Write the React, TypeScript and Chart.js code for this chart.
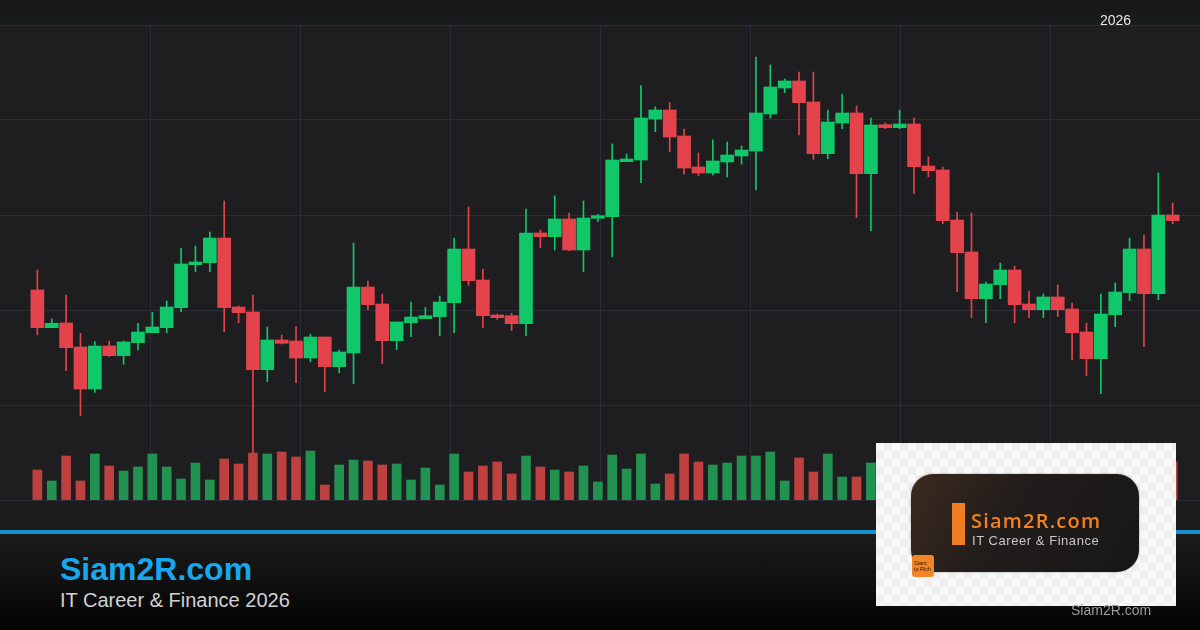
import React, { useEffect, useRef } from 'react';
import { Chart, registerables } from 'chart.js';

Chart.register(...registerables);

// Price units (arbitrary, no labels shown); gridlines every 95 units
const opens = [210, 172.3, 177, 153, 111, 154, 144.3, 157.3, 167.3, 172.3, 192.3, 235.3, 237.3, 262, 193, 188, 130.3, 160, 159, 142, 163, 133.3, 147, 213, 196, 159.3, 177.3, 181.3, 183.3, 197.3, 251, 220, 185, 184.3, 176.3, 267, 263.3, 281, 250, 281.7, 283.3, 338.3, 340, 381, 390, 364, 333, 327, 338, 344, 349, 386, 412, 419, 398, 346.3, 377, 387, 326.3, 375.3, 372.3, 376, 334, 330, 280, 248, 201.3, 215.3, 230, 196, 190.3, 203, 191, 168, 141.3, 185.3, 207.3, 251, 206.3, 285];
const highs = [230, 181, 205, 166.7, 158.3, 159, 159, 176.7, 187.7, 199, 251.7, 254, 268, 299, 194, 205, 173, 165, 173.3, 166, 163, 150, 257, 219, 206, 178, 198, 192.3, 204, 261.7, 293, 231, 186, 186.7, 291, 270, 304, 287, 299, 285.7, 356, 346, 414.3, 393.3, 397.3, 371, 347, 360, 358, 354, 443, 435, 421, 428, 428, 390, 406, 394, 382, 377, 390, 382, 343, 333, 288, 287, 218, 237, 234, 209, 206, 215, 197, 177, 206, 217, 262, 265, 327, 297];
const lows = [165, 172.3, 129.3, 84.3, 107.7, 143.3, 135.7, 150, 167.3, 167.3, 188.3, 228.3, 228.3, 168.3, 177.3, 47, 118.3, 156, 117.3, 138, 108.3, 127.3, 116.3, 190.3, 136.3, 150.3, 163.3, 181.3, 164.3, 167.3, 214.7, 172.3, 180.7, 169.3, 164.3, 252.3, 250, 249.3, 228.3, 278.3, 243.3, 338.3, 317.3, 368.3, 348.3, 326, 324.3, 325, 323, 336, 310, 382, 407.3, 365, 340.7, 341.3, 371.3, 282.3, 269.3, 371.3, 371.3, 306.3, 323.3, 276.3, 208.3, 182.3, 177.3, 201.3, 177.3, 182.3, 182.3, 183.3, 140.3, 124.3, 106.3, 173.3, 199.3, 153.3, 200.3, 276.3];
const closes = [172.3, 176.7, 152.3, 111, 154, 144.3, 158, 168, 173, 193, 236, 238, 262, 192.3, 187.3, 130.3, 160, 156.7, 142, 163, 133.3, 148, 213, 195.3, 159.3, 178, 183, 184.3, 198, 251, 219.3, 184.3, 182.3, 176.3, 267, 263.3, 281, 250, 282, 284.3, 340, 341, 382, 390, 363, 332, 327, 339, 345, 350, 387, 413, 419, 397.3, 346.3, 378, 387, 326.3, 375, 372.3, 376, 333.3, 329.3, 279.3, 247.3, 201.3, 216, 230, 195.3, 190.3, 203, 190.3, 167.3, 141.3, 186, 208, 251, 206.3, 285, 279.3];
const volumes = [30, 19, 44, 19, 46, 34, 29, 33, 46, 33, 21, 37, 20, 41, 36, 47, 46, 48, 43, 49, 15, 35, 40, 39, 35, 36, 20, 32, 15, 46, 28, 34, 38, 26, 44, 33, 30, 28, 34, 18, 45, 31, 46, 16, 26, 46, 38, 35, 37, 44, 44, 48, 19, 42, 28, 46, 23, 23, 37, 20, 26, 40, 22, 35, 44, 47, 30, 28, 38, 18, 24, 27, 36, 41, 48, 33, 39, 42, 47, 38];
const yearLabel = '2026';
const brandTitle = 'Siam2R.com';
const brandSubtitle = 'IT Career & Finance 2026';
const logoSubtitle = 'IT Career & Finance';

const UP = '#10c86a';
const DOWN = '#e5434b';
const VOL_UP = '#21924f';
const VOL_DOWN = '#be403f';
const GRID = '#2b2e3a';

export default function App() {
  const ref = useRef<HTMLCanvasElement | null>(null);

  useEffect(() => {
    if (!ref.current) return;
    const idx = opens.map((_, i) => i);
    const up = (i: number) => closes[i] >= opens[i];
    const chart = new Chart(ref.current, {
      type: 'bar',
      data: {
        datasets: [
          {
            label: 'Body',
            data: idx.map((i) => ({ x: i, y: [opens[i], closes[i]] })) as any,
            backgroundColor: idx.map((i) => (up(i) ? UP : DOWN)),
            borderWidth: 0,
            barThickness: 13,
            grouped: false,
            order: 1,
            xAxisID: 'x',
            yAxisID: 'y',
          } as any,
          {
            label: 'Wick',
            data: idx.map((i) => ({ x: i, y: [lows[i], highs[i]] })) as any,
            backgroundColor: idx.map((i) => (up(i) ? UP : DOWN)),
            borderWidth: 0,
            barThickness: 1,
            grouped: false,
            order: 2,
            xAxisID: 'x',
            yAxisID: 'y',
          } as any,
          {
            label: 'Volume',
            data: idx.map((i) => ({ x: i, y: volumes[i] })) as any,
            backgroundColor: idx.map((i) => (up(i) ? VOL_UP : VOL_DOWN)),
            borderWidth: 0,
            barThickness: 9,
            grouped: false,
            order: 3,
            xAxisID: 'x',
            yAxisID: 'yv',
          } as any,
        ],
      },
      options: {
        animation: false,
        responsive: false,
        devicePixelRatio: 1,
        layout: { padding: { top: 5, bottom: 5, left: 0, right: 0 } },
        plugins: { legend: { display: false }, tooltip: { enabled: false } },
        scales: {
          x: {
            type: 'linear',
            min: -2.6,
            max: 80.9,
            offset: false,
            display: false,
          },
          xg: {
            type: 'linear',
            position: 'bottom',
            min: 0,
            max: 1200,
            offset: false,
            ticks: { display: false, stepSize: 150 },
            grid: {
              color: (c: any) => (c.tick && (c.tick.value === 0 || c.tick.value === 1200) ? 'rgba(0,0,0,0)' : GRID),
              drawTicks: false,
              offset: false,
            },
            border: { display: false },
          },
          y: {
            type: 'linear',
            min: 0,
            max: 475,
            ticks: { display: false, stepSize: 95 },
            grid: { color: GRID, drawTicks: false },
            border: { display: false },
          },
          yv: {
            type: 'linear',
            min: 0,
            max: 475,
            display: false,
          },
        },
      } as any,
    });
    return () => chart.destroy();
  }, []);

  const txt = { position: 'absolute' as const, whiteSpace: 'nowrap' as const, margin: 0 };

  return (
    <div
      style={{
        position: 'fixed',
        left: 0,
        top: 0,
        width: 1200,
        height: 630,
        overflow: 'hidden',
        background: '#1e1e20',
        fontFamily: '"Liberation Sans", Arial, Helvetica, sans-serif',
      }}
    >
      <div style={{ position: 'absolute', left: 0, top: 0, width: 1200, height: 25, background: 'linear-gradient(#151618, #1b1c1e)' }} />
      <div style={{ position: 'absolute', left: 0, top: 500, width: 1200, height: 30, background: '#1c1c1d' }} />
      <canvas
        ref={ref}
        width={1200}
        height={485}
        style={{ position: 'absolute', left: 0, top: 20, width: 1200, height: 485 }}
      />
      <div style={{ ...txt, left: 1100, top: 13, fontSize: 14, lineHeight: '14px', color: '#e6e6e6' }}>{yearLabel}</div>

      <div style={{ position: 'absolute', left: 0, top: 530, width: 1200, height: 4, background: '#1b8fd0' }} />
      <div style={{ position: 'absolute', left: 0, top: 534, width: 1200, height: 96, background: 'linear-gradient(#1c1c1c, #030303)' }} />
      <div style={{ ...txt, left: 60, top: 553, fontSize: 32, lineHeight: '32px', fontWeight: 700, color: '#18a6ee' }}>{brandTitle}</div>
      <div style={{ ...txt, left: 60, top: 590, fontSize: 20, lineHeight: '20px', color: '#d2d2d2' }}>{brandSubtitle}</div>

      <div
        style={{
          position: 'absolute',
          left: 876,
          top: 443,
          width: 300,
          height: 163,
          background: 'repeating-conic-gradient(#eeeeee 0% 25%, #f8f8f8 0% 50%) 0 0 / 16px 16px',
        }}
      >
        <div
          style={{
            position: 'absolute',
            left: 35,
            top: 31,
            width: 228,
            height: 98,
            borderRadius: 22,
            background: 'linear-gradient(120deg, #3c2a1f 0%, #221d1b 40%, #171717 100%)',
            boxShadow: '0 0 2px rgba(0,0,0,0.4)',
          }}
        >
          <div style={{ position: 'absolute', left: 41, top: 29, width: 13, height: 42, background: '#f07f22' }} />
          <div style={{ ...txt, left: 60, top: 37, fontSize: 20, lineHeight: '20px', letterSpacing: 1.2, fontFamily: '"Open Sans", "Liberation Sans", sans-serif', fontWeight: 600, color: '#f08224' }}>{brandTitle}</div>
          <div style={{ ...txt, left: 61, top: 60, fontSize: 13, lineHeight: '13px', letterSpacing: 0.55, color: '#c8c8c8' }}>{logoSubtitle}</div>
        </div>
        <div
          style={{
            position: 'absolute',
            left: 36,
            top: 112,
            width: 22,
            height: 22,
            borderRadius: 3,
            background: '#f28526',
            color: '#3a1800',
            fontSize: 5.5,
            lineHeight: '6px',
            paddingLeft: 2,
            paddingTop: 5,
            boxSizing: 'border-box',
          }}
        >
          Siam
          <br />
          to Rich
        </div>
      </div>
      <div style={{ ...txt, left: 1071, top: 603, fontSize: 14, lineHeight: '14px', color: '#9c9c9c' }}>{brandTitle}</div>
    </div>
  );
}
